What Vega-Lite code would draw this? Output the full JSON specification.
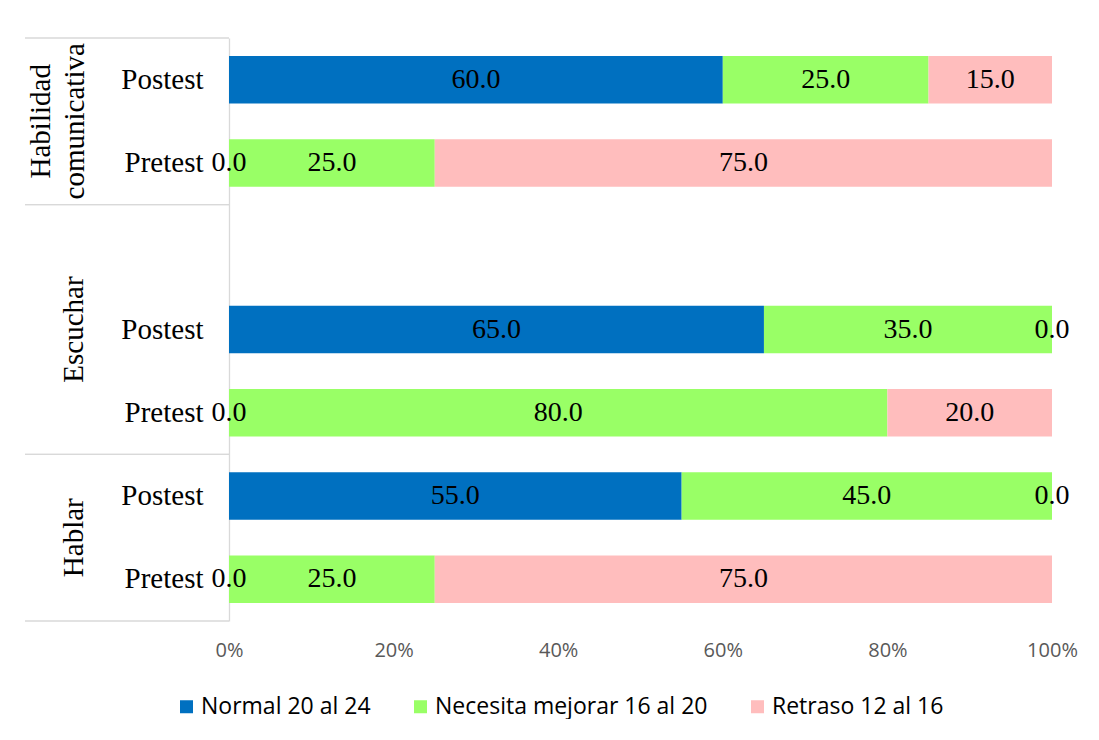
{
  "$schema": "https://vega.github.io/schema/vega-lite/v6.json",
  "padding": {"left": 24, "top": 37, "right": 0, "bottom": 0},
  "autosize": {"type": "pad"},
  "background": "white",
  "bounds": "flush",
  "spacing": 0,
  "datasets": {
    "limites": [
      {"grupo": "Habilidad\ncomunicativa", "limite": 0},
      {"grupo": "Habilidad\ncomunicativa", "limite": 2},
      {"grupo": "Escuchar", "limite": 2},
      {"grupo": "Escuchar", "limite": 5},
      {"grupo": "Hablar", "limite": 5},
      {"grupo": "Hablar", "limite": 7}
    ],
    "resultados": [
      {"clave": "Habilidad comunicativa|Postest", "nivel": "Normal 20 al 24", "orden": 1, "valor": 60.0},
      {"clave": "Habilidad comunicativa|Postest", "nivel": "Necesita mejorar 16 al 20", "orden": 2, "valor": 25.0},
      {"clave": "Habilidad comunicativa|Postest", "nivel": "Retraso 12 al 16", "orden": 3, "valor": 15.0},
      {"clave": "Habilidad comunicativa|Pretest", "nivel": "Normal 20 al 24", "orden": 1, "valor": 0.0},
      {"clave": "Habilidad comunicativa|Pretest", "nivel": "Necesita mejorar 16 al 20", "orden": 2, "valor": 25.0},
      {"clave": "Habilidad comunicativa|Pretest", "nivel": "Retraso 12 al 16", "orden": 3, "valor": 75.0},
      {"clave": "Escuchar|Postest", "nivel": "Normal 20 al 24", "orden": 1, "valor": 65.0},
      {"clave": "Escuchar|Postest", "nivel": "Necesita mejorar 16 al 20", "orden": 2, "valor": 35.0},
      {"clave": "Escuchar|Postest", "nivel": "Retraso 12 al 16", "orden": 3, "valor": 0.0},
      {"clave": "Escuchar|Pretest", "nivel": "Normal 20 al 24", "orden": 1, "valor": 0.0},
      {"clave": "Escuchar|Pretest", "nivel": "Necesita mejorar 16 al 20", "orden": 2, "valor": 80.0},
      {"clave": "Escuchar|Pretest", "nivel": "Retraso 12 al 16", "orden": 3, "valor": 20.0},
      {"clave": "Hablar|Postest", "nivel": "Normal 20 al 24", "orden": 1, "valor": 55.0},
      {"clave": "Hablar|Postest", "nivel": "Necesita mejorar 16 al 20", "orden": 2, "valor": 45.0},
      {"clave": "Hablar|Postest", "nivel": "Retraso 12 al 16", "orden": 3, "valor": 0.0},
      {"clave": "Hablar|Pretest", "nivel": "Normal 20 al 24", "orden": 1, "valor": 0.0},
      {"clave": "Hablar|Pretest", "nivel": "Necesita mejorar 16 al 20", "orden": 2, "valor": 25.0},
      {"clave": "Hablar|Pretest", "nivel": "Retraso 12 al 16", "orden": 3, "valor": 75.0}
    ]
  },
  "hconcat": [
    {
      "width": 204,
      "height": 583,
      "data": {"name": "limites"},
      "layer": [
        {
          "mark": {"type": "rule", "color": "#d9d9d9", "strokeWidth": 1.3},
          "encoding": {
            "y": {"field": "limite", "type": "quantitative", "scale": {"domain": [0, 7], "reverse": true, "nice": false, "zero": false}, "axis": null}
          }
        },
        {
          "transform": [{"filter": "indexof(datum.grupo, '\\n') < 0"}],
          "mark": {"type": "text", "angle": 270, "align": "center", "baseline": "bottom", "font": "Liberation Serif", "fontSize": 29, "dy": -38, "color": "black"},
          "encoding": {
            "y": {"aggregate": "mean", "field": "limite", "type": "quantitative"},
            "text": {"field": "grupo"}
          }
        },
        {
          "transform": [{"filter": "indexof(datum.grupo, '\\n') >= 0"}],
          "mark": {"type": "text", "angle": 270, "align": "center", "baseline": "bottom", "font": "Liberation Serif", "fontSize": 29, "lineBreak": "\n", "lineHeight": 34, "dy": -71, "color": "black"},
          "encoding": {
            "y": {"aggregate": "mean", "field": "limite", "type": "quantitative"},
            "text": {"field": "grupo"}
          }
        }
      ]
    },
    {
      "width": 823,
      "height": 583,
      "data": {"name": "resultados"},
      "encoding": {
        "y": {
          "field": "clave",
          "type": "nominal",
          "scale": {
            "domain": ["Habilidad comunicativa|Postest", "Habilidad comunicativa|Pretest", "Escuchar|", "Escuchar|Postest", "Escuchar|Pretest", "Hablar|Postest", "Hablar|Pretest"],
            "paddingInner": 0.43,
            "paddingOuter": 0.215
          },
          "axis": {
            "title": null,
            "labelExpr": "split(datum.label, '|')[1]",
            "labelFont": "Liberation Serif",
            "labelFontSize": 29,
            "labelColor": "black",
            "ticks": false,
            "grid": false,
            "labelPadding": 26,
            "labelLimit": 0,
            "domainColor": "#d9d9d9",
            "domainWidth": 1.3
          }
        },
        "x": {
          "field": "valor",
          "type": "quantitative",
          "stack": "normalize",
          "axis": {
            "title": null,
            "format": ".0%",
            "values": [0, 0.2, 0.4, 0.6, 0.8, 1],
            "labelFont": "Open Sans",
            "labelFontSize": 20,
            "labelColor": "#595959",
            "labelFlush": false,
            "domain": false,
            "ticks": false,
            "grid": false,
            "labelPadding": 19
          }
        },
        "order": {"field": "orden", "type": "quantitative"}
      },
      "layer": [
        {
          "mark": {"type": "bar"},
          "encoding": {
            "color": {
              "field": "nivel",
              "type": "nominal",
              "scale": {
                "domain": ["Normal 20 al 24", "Necesita mejorar 16 al 20", "Retraso 12 al 16"],
                "range": ["#0070C0", "#99FF66", "#FFBDBD"]
              },
              "legend": {
                "title": null,
                "orient": "none",
                "legendX": 150,
                "legendY": 657,
                "direction": "horizontal",
                "symbolType": "square",
                "symbolSize": 169,
                "symbolStrokeWidth": 0,
                "symbolOpacity": 1,
                "labelFont": "Open Sans",
                "labelFontSize": 23,
                "labelColor": "black",
                "labelLimit": 0,
                "columnPadding": 38,
                "labelOffset": 3
              }
            }
          }
        },
        {
          "mark": {"type": "text", "font": "Liberation Serif", "fontSize": 28, "color": "black", "align": "center", "baseline": "middle"},
          "encoding": {
            "x": {"field": "valor", "type": "quantitative", "stack": "normalize", "bandPosition": 0.5},
            "detail": {"field": "nivel"},
            "text": {"field": "valor", "type": "quantitative", "format": ".1f"}
          }
        }
      ]
    }
  ],
  "resolve": {"scale": {"y": "independent", "x": "independent"}},
  "config": {"view": {"stroke": null}}
}
